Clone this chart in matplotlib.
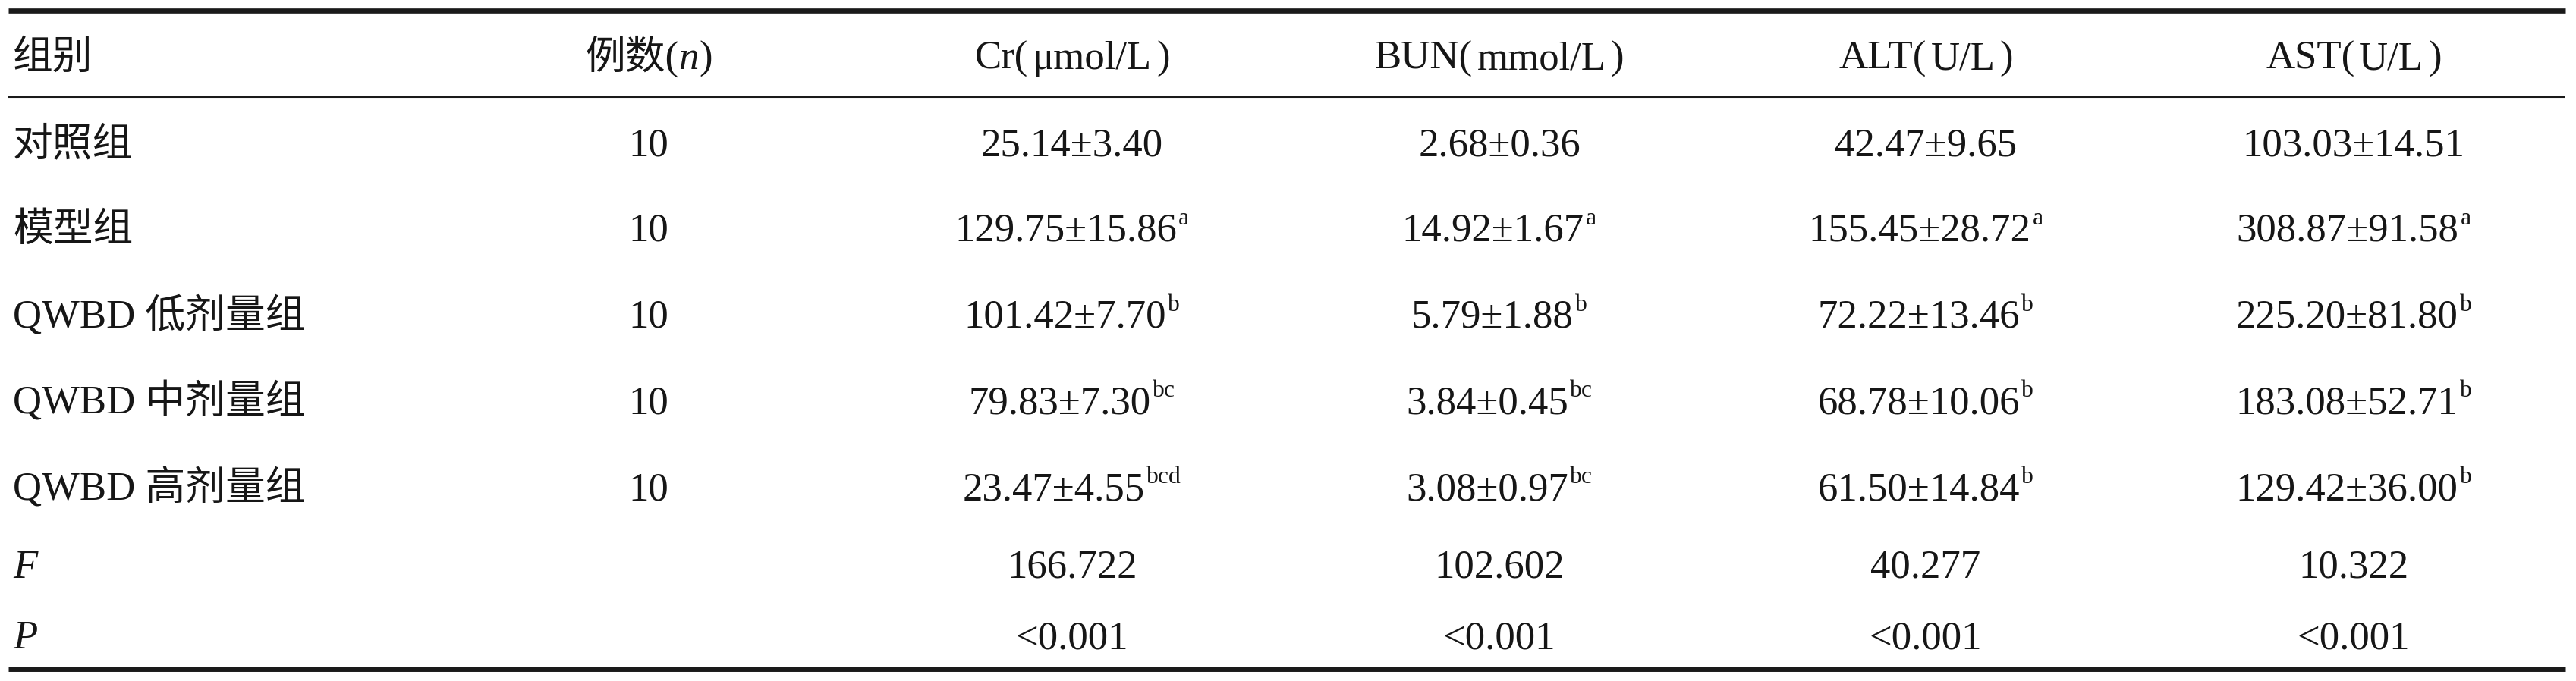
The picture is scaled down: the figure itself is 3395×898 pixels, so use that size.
import matplotlib
matplotlib.use('Agg')
import matplotlib.pyplot as plt

# 表格数据
groups = ['对照组', '模型组', 'QWBD 低剂量组', 'QWBD 中剂量组', 'QWBD 高剂量组']
n_cases = [10, 10, 10, 10, 10]

cr_mean = [25.14, 129.75, 101.42, 79.83, 23.47]
cr_sd = [3.40, 15.86, 7.70, 7.30, 4.55]
cr_mark = ['', 'a', 'b', 'bc', 'bcd']

bun_mean = [2.68, 14.92, 5.79, 3.84, 3.08]
bun_sd = [0.36, 1.67, 1.88, 0.45, 0.97]
bun_mark = ['', 'a', 'b', 'bc', 'bc']

alt_mean = [42.47, 155.45, 72.22, 68.78, 61.50]
alt_sd = [9.65, 28.72, 13.46, 10.06, 14.84]
alt_mark = ['', 'a', 'b', 'b', 'b']

ast_mean = [103.03, 308.87, 225.20, 183.08, 129.42]
ast_sd = [14.51, 91.58, 81.80, 52.71, 36.00]
ast_mark = ['', 'a', 'b', 'b', 'b']

f_values = ['166.722', '102.602', '40.277', '10.322']
p_values = ['<0.001', '<0.001', '<0.001', '<0.001']

# название показателя и единицы
header_names = ['Cr', 'BUN', 'ALT', 'AST']
header_units = ['μmol/L', 'mmol/L', 'U/L', 'U/L']

W, H = 3395, 898
FS = 38                    # pt
FS_PX = FS * 100 / 72
FAMILY = ['Liberation Serif', 'Noto Sans CJK SC']
INK = '#161616'

col_x = [855, 1413, 1976, 2538, 3102]
left_x = 17
header_y = 91
row_y = [205, 318, 432, 545, 659]
f_y, p_y = 762, 855

fig = plt.figure(figsize=(W / 100, H / 100), dpi=100)
ax = fig.add_axes([0, 0, 1, 1])
ax.set_xlim(0, W)
ax.set_ylim(H, 0)
ax.axis('off')
renderer = fig.canvas.get_renderer()


def draw_runs(x, y, runs, ha='center'):
    '''Рисует строку из кусочков: n - обычный, i - курсив, s - индекс, g - отступ'''
    items = []
    for s, kind in runs:
        if kind == 'g':
            items.append((None, s, 0))
            continue
        if not s:
            continue
        kw = dict(fontsize=FS, family=FAMILY, color=INK, va='baseline', ha='left')
        dy, pad = 0, 0
        if kind == 'i':
            kw['style'] = 'italic'
        if kind == 's':
            kw['fontsize'] = FS * 0.6
            dy = -FS_PX * 0.41
            pad = 2
        t = ax.text(0, y + dy, s, **kw)
        items.append((t, t.get_window_extent(renderer).width + pad, pad))
    start = x - sum(w for _, w, _ in items) / 2 if ha == 'center' else x
    for t, w, pad in items:
        if t is not None:
            t.set_x(start + pad)
        start += w


# линии таблицы
ax.hlines(14, 11, 3381, color='#1a1a1a', linewidth=4.8)
ax.hlines(128, 11, 3381, color='#1a1a1a', linewidth=1.5)
ax.hlines(881.5, 11, 3381, color='#1a1a1a', linewidth=5.0)

# шапка
draw_runs(left_x, header_y, [('组别', 'n')], ha='left')
draw_runs(col_x[0], header_y, [('例数(', 'n'), ('n', 'i'), (')', 'n')])
for x, name, unit in zip(col_x[1:], header_names, header_units):
    draw_runs(x, header_y, [(name + '(', 'n'), (6, 'g'), (unit, 'n'), (6, 'g'), (')', 'n')])

columns = [(cr_mean, cr_sd, cr_mark), (bun_mean, bun_sd, bun_mark),
           (alt_mean, alt_sd, alt_mark), (ast_mean, ast_sd, ast_mark)]

for i, y in enumerate(row_y):
    draw_runs(left_x, y, [(groups[i], 'n')], ha='left')
    draw_runs(col_x[0], y, [(str(n_cases[i]), 'n')])
    for x, (mean, sd, mark) in zip(col_x[1:], columns):
        draw_runs(x, y, [(f'{mean[i]:.2f}±{sd[i]:.2f}', 'n'), (mark[i], 's')])

draw_runs(left_x, f_y, [('F', 'i')], ha='left')
draw_runs(left_x, p_y, [('P', 'i')], ha='left')
for x, f, p in zip(col_x[1:], f_values, p_values):
    draw_runs(x, f_y, [(f, 'n')])
    draw_runs(x, p_y, [(p, 'n')])

fig.savefig('out.png', dpi=100)
